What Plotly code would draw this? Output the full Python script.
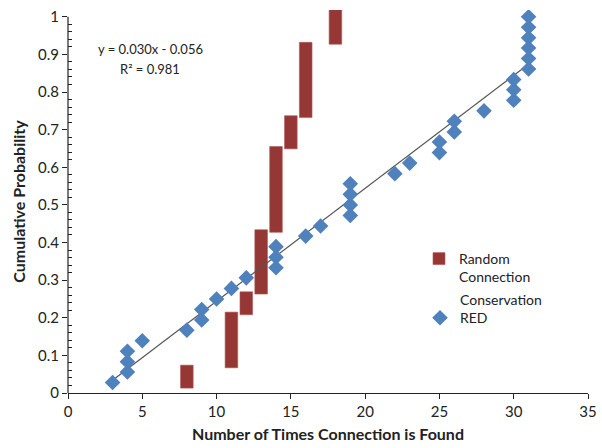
import plotly.graph_objects as go

# Conservation RED (blue diamonds)
cons_x = [3, 4, 4, 4, 5, 8, 9, 9, 10, 11, 12, 14, 14, 14, 16, 17, 19, 19, 19, 19,
          22, 23, 25, 25, 26, 26, 28, 30, 30, 30, 31, 31, 31, 31, 31, 31]
cons_y = [0.028, 0.056, 0.083, 0.111, 0.139, 0.167, 0.194, 0.222, 0.250, 0.278,
          0.306, 0.333, 0.361, 0.389, 0.417, 0.444, 0.472, 0.500, 0.528, 0.556,
          0.583, 0.611, 0.639, 0.667, 0.694, 0.722, 0.750, 0.778, 0.806, 0.833,
          0.861, 0.889, 0.917, 0.944, 0.972, 1.000]

# Random Connection (floating red bars)
rand_x = [8, 11, 12, 13, 14, 15, 16, 18]
rand_low = [0.013, 0.067, 0.208, 0.263, 0.427, 0.649, 0.732, 0.927]
rand_high = [0.074, 0.215, 0.269, 0.434, 0.655, 0.737, 0.932, 1.019]

# Linear trendline
trend_slope = 0.030
trend_intercept = -0.056
trend_x = [3, 31]
eq_text = "y = 0.030x - 0.056"
r2_text = "R² = 0.981"

x_ticks = [0, 5, 10, 15, 20, 25, 30, 35]
y_ticks = [0, 0.1, 0.2, 0.3, 0.4, 0.5, 0.6, 0.7, 0.8, 0.9, 1]
y_ticktext = ["0", "0.1", "0.2", "0.3", "0.4", "0.5", "0.6", "0.7", "0.8", "0.9", "1"]

FONT = "Lato, 'Open Sans', sans-serif"
L, R, T, B = 68, 588, 10, 393
PW, PH = R - L, B - T

fig = go.Figure()

fig.add_trace(go.Bar(
    x=rand_x,
    y=[h - l for h, l in zip(rand_high, rand_low)],
    base=rand_low,
    width=0.85,
    marker=dict(color="#953735", line=dict(color="#b05a58", width=0.6)),
    name="Random<br>Connection",
    legend="legend",
))

fig.add_trace(go.Scatter(
    x=trend_x,
    y=[trend_slope * v + trend_intercept for v in trend_x],
    mode="lines",
    line=dict(color="#555555", width=1.2),
    showlegend=False,
    hoverinfo="skip",
))

fig.add_trace(go.Scatter(
    x=cons_x, y=cons_y,
    mode="markers",
    marker=dict(symbol="diamond", size=12, color="#4F81BD"),
    name="Conservation<br>RED",
    legend="legend2",
))

fig.add_shape(type="line", xref="paper", yref="y", x0=0, x1=0, y0=0, y1=1,
              line=dict(color="#222222", width=1.2), layer="above")

fig.add_annotation(text=eq_text, xref="paper", yref="paper", x=(150 - L) / PW,
                   y=(B - 49) / PH, showarrow=False, xanchor="center", yanchor="middle",
                   font=dict(family=FONT, size=13, color="#222222"))
fig.add_annotation(text=r2_text, xref="paper", yref="paper", x=(150 - L) / PW,
                   y=(B - 69) / PH, showarrow=False, xanchor="center", yanchor="middle",
                   font=dict(family=FONT, size=13, color="#222222"))

fig.update_layout(
    width=602, height=448,
    margin=dict(l=L, r=602 - R, t=T, b=448 - B, autoexpand=False),
    paper_bgcolor="white", plot_bgcolor="white",
    font=dict(family=FONT, size=14, color="#222222"),
    barmode="overlay",
    legend=dict(x=(419 - L) / PW, y=(B - 243) / PH, xanchor="left", yanchor="top",
                valign="top", bgcolor="rgba(0,0,0,0)", font=dict(size=14)),
    legend2=dict(x=(420 - L) / PW, y=(B - 284) / PH, xanchor="left", yanchor="top",
                 valign="bottom", bgcolor="rgba(0,0,0,0)", font=dict(size=14)),
    xaxis=dict(
        range=[0, 35], tickvals=x_ticks, ticks="outside", ticklen=5,
        tickcolor="#222222", showline=True, linecolor="#222222", linewidth=1.2,
        showgrid=False, zeroline=False, automargin=False,
        title=dict(text="<b>Number of Times Connection is Found</b>",
                   font=dict(size=16), standoff=9),
        tickfont=dict(size=15),
    ),
    yaxis=dict(
        range=[0, 1.018], ticks="outside", ticklen=5,
        tickcolor="#222222", showline=False, showgrid=False, zeroline=False,
        automargin=False,
        tickvals=y_ticks, ticktext=y_ticktext,
        minor=dict(tickvals=[round(i * 0.02, 2) for i in range(51) if i % 5 != 0],
                   ticks="inside", ticklen=4, tickcolor="#222222"),
        title=dict(text="<b>Cumulative Probability</b>", font=dict(size=16), standoff=8),
        tickfont=dict(size=15),
    ),
)

fig.write_html("out.html", config={"displayModeBar": False},
               post_script="document.body.style.margin='0px';")
